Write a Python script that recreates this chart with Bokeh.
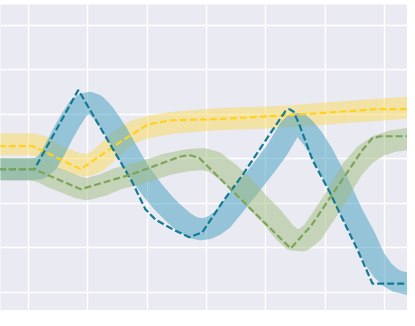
from bokeh.plotting import figure
from bokeh.models import Range1d, FixedTicker
from bokeh.embed import file_html
from bokeh.resources import INLINE

# ---- data ----
x_ticks = [1, 2, 3, 4, 5, 6, 7]
y_ticks = [0, 1, 2, 3, 4, 5, 6]

# yellow series
yellow_band_x = [0.5, 1.07, 1.24, 1.40, 1.61, 1.83, 1.99, 2.16, 2.33, 2.50, 2.67, 2.84,
                 3.09, 3.43, 3.77, 4.27, 4.78, 5.45, 6.30, 7.5]
yellow_band_y = [3.33, 3.33, 3.27, 3.13, 3.00, 2.88, 2.86, 2.95, 3.15, 3.36, 3.54, 3.65,
                 3.74, 3.81, 3.85, 3.90, 3.92, 3.96, 4.05, 4.16]
yellow_line_x = [0.5, 1.07, 1.88, 2.59, 2.97, 3.10, 3.43, 4.27, 5.45, 6.13, 6.89, 7.5]
yellow_line_y = [3.29, 3.29, 2.77, 3.42, 3.74, 3.80, 3.87, 3.90, 3.99, 4.05, 4.12, 4.12]

# blue / teal series
blue_band_x = [0.5, 1.07, 1.20, 1.32, 1.44, 1.57, 1.71, 1.84, 1.94, 2.03, 2.13, 2.25,
               2.38, 2.50, 2.62, 2.75, 2.92, 3.09, 3.26, 3.43, 3.60, 3.77, 3.90, 4.02,
               4.14, 4.27, 4.52, 4.78, 5.03, 5.20, 5.32, 5.40, 5.49, 5.57, 5.65, 5.79,
               5.96, 6.21, 6.46, 6.67, 6.83, 6.97, 7.10, 7.22, 7.5]
blue_band_y = [2.77, 2.77, 2.79, 2.93, 3.20, 3.54, 3.87, 4.14, 4.23, 4.26, 4.21, 4.05,
               3.81, 3.56, 3.27, 2.97, 2.61, 2.30, 2.03, 1.80, 1.60, 1.46, 1.42, 1.44,
               1.51, 1.64, 2.05, 2.48, 2.91, 3.22, 3.49, 3.67, 3.78, 3.78, 3.69, 3.47,
               3.11, 2.48, 1.76, 1.24, 0.77, 0.50, 0.34, 0.25, 0.16]
teal_line_x = [0.5, 1.10, 1.84, 2.75, 2.97, 3.14, 3.43, 3.71, 3.93, 4.27, 4.61, 5.06,
               5.33, 5.40, 5.47, 5.57, 5.79, 6.08, 6.24, 6.55, 6.80, 7.5]
teal_line_y = [2.77, 2.77, 4.55, 2.48, 1.87, 1.64, 1.42, 1.24, 1.35, 2.03, 2.64, 3.54,
               4.07, 4.12, 4.06, 3.76, 2.97, 2.25, 1.80, 0.95, 0.20, 0.20]

# green series
green_band_x = [0.5, 1.07, 1.24, 1.40, 1.61, 1.83, 1.99, 2.25, 2.50, 2.92, 3.34, 3.68,
                3.93, 4.14, 4.36, 4.61, 4.86, 5.11, 5.32, 5.45, 5.62, 5.79, 5.96, 6.13,
                6.30, 6.46, 6.67, 6.89, 7.14, 7.5]
green_band_y = [2.77, 2.77, 2.70, 2.59, 2.48, 2.36, 2.32, 2.41, 2.55, 2.70, 2.88, 2.97,
                3.00, 2.93, 2.70, 2.41, 2.03, 1.69, 1.35, 1.19, 1.17, 1.35, 1.69, 2.03,
                2.41, 2.77, 3.09, 3.29, 3.40, 3.47]
green_line_x = [0.5, 1.10, 1.88, 2.75, 3.55, 3.71, 3.88, 5.42, 5.76, 6.09, 6.30, 6.63,
                6.80, 6.94, 7.5]
green_line_y = [2.77, 2.77, 2.32, 2.66, 3.05, 3.09, 3.02, 0.99, 1.49, 2.14, 2.55, 3.20,
                3.47, 3.51, 3.51]

# ---- figure ----
p = figure(width=407, height=310, output_backend="svg", toolbar_location=None,
           x_range=Range1d(0.528, 7.39), y_range=Range1d(-0.405, 6.47),
           min_border_left=0, min_border_right=0, min_border_top=4, min_border_bottom=0)
p.background_fill_color = "#EAEAF2"
p.border_fill_color = "white"
p.outline_line_color = None
p.xaxis.visible = False
p.yaxis.visible = False
p.xgrid.ticker = FixedTicker(ticks=x_ticks)
p.ygrid.ticker = FixedTicker(ticks=y_ticks)
p.grid.grid_line_color = "white"
p.grid.grid_line_width = 1.4

band_w = 22
p.line(yellow_band_x, yellow_band_y, line_color="#FADA58", line_alpha=0.5,
       line_width=band_w, line_join="round")
p.line(blue_band_x, blue_band_y, line_color="#3F9DC0", line_alpha=0.5,
       line_width=band_w, line_join="round")
p.line(green_band_x, green_band_y, line_color="#A0BC7E", line_alpha=0.5,
       line_width=band_w, line_join="round")

p.line(yellow_line_x, yellow_line_y, line_color="#FFD21F", line_width=2.2, line_dash="7 3")
p.line(teal_line_x, teal_line_y, line_color="#137A92", line_width=2.2, line_dash="7 3")
p.line(green_line_x, green_line_y, line_color="#7DA55A", line_width=2.2, line_dash="7 3")

open("out.html", "w").write(file_html(p, INLINE))
